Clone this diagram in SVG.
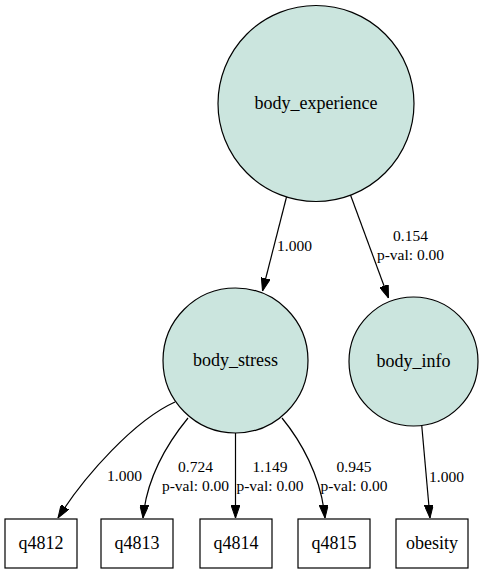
<svg xmlns="http://www.w3.org/2000/svg" width="485" height="573" viewBox="0 0 485 573" font-family="'Liberation Serif', 'Times New Roman', Times, 'DejaVu Serif', serif">
<style>
.bg{fill:#ffffff}
.lat{fill:#cbe5de;stroke:#000;stroke-width:1.2}
.obs{fill:#ffffff;stroke:#000;stroke-width:1.2}
text{font-family:'Liberation Serif','Times New Roman',Times,'DejaVu Serif',serif}
.nl{font-size:18px;fill:#000;text-anchor:middle}
.el{font-size:15.5px;fill:#000;text-anchor:middle}
.edge{fill:none;stroke:#000;stroke-width:1.2;marker-end:url(#arr)}
</style>
<defs>
<marker id="arr" markerUnits="userSpaceOnUse" viewBox="0 0 13 9" markerWidth="13" markerHeight="9" refX="13" refY="4.5" orient="auto">
<path d="M0,0 L13,4.5 L0,9 z" fill="#000" stroke="#000" stroke-width="1"/>
</marker>
</defs>
<rect class="bg" x="0" y="0" width="485" height="573"/>
<g id="edges">
<path class="edge" d="M286.5,197 L262.5,291"/>
<path class="edge" d="M350.5,195 L388.5,298"/>
<path class="edge" d="M175,402 C135,420 85,475 58,518"/>
<path class="edge" d="M188,418 C170,440 147,475 143,518"/>
<path class="edge" d="M235.5,433 L235.5,518"/>
<path class="edge" d="M282,418 C300,440 321,475 325,518"/>
<path class="edge" d="M421.7,425 L430,518"/>
<text class="el" x="294.5" y="251">1.000</text>
<text class="el" x="410.5" y="241">0.154</text>
<text class="el" x="410.5" y="260">p-val: 0.00</text>
<text class="el" x="124.5" y="481">1.000</text>
<text class="el" x="195.5" y="472">0.724</text>
<text class="el" x="195.5" y="491">p-val: 0.00</text>
<text class="el" x="270" y="472">1.149</text>
<text class="el" x="270" y="491">p-val: 0.00</text>
<text class="el" x="354" y="472">0.945</text>
<text class="el" x="354" y="491">p-val: 0.00</text>
<text class="el" x="446.5" y="482">1.000</text>
</g>
<g id="body_experience">
<circle class="lat" cx="316" cy="103.5" r="98"/>
<text class="nl" x="316" y="108.5">body_experience</text>
</g>
<g id="body_stress">
<circle class="lat" cx="235.5" cy="360.5" r="72.5"/>
<text class="nl" x="235.5" y="365.5">body_stress</text>
</g>
<g id="body_info">
<circle class="lat" cx="413.5" cy="361.5" r="64.5"/>
<text class="nl" x="413.5" y="366.5">body_info</text>
</g>
<g id="q4812">
<rect class="obs" x="5" y="519" width="72" height="49"/>
<text class="nl" x="41" y="548.5">q4812</text>
</g>
<g id="q4813">
<rect class="obs" x="101" y="519" width="72" height="49"/>
<text class="nl" x="137" y="548.5">q4813</text>
</g>
<g id="q4814">
<rect class="obs" x="200" y="519" width="72" height="49"/>
<text class="nl" x="236" y="548.5">q4814</text>
</g>
<g id="q4815">
<rect class="obs" x="298" y="519" width="72" height="49"/>
<text class="nl" x="334" y="548.5">q4815</text>
</g>
<g id="obesity">
<rect class="obs" x="396" y="519" width="72" height="49"/>
<text class="nl" x="432" y="548.5">obesity</text>
</g>
</svg>
